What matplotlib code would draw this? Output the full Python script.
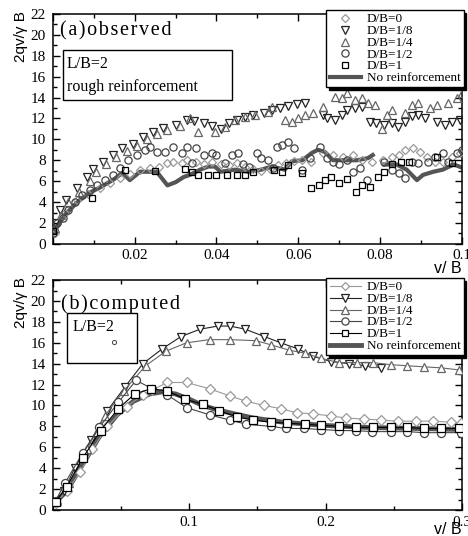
import matplotlib.pyplot as plt
from matplotlib.lines import Line2D
from matplotlib.patches import Rectangle
from matplotlib.ticker import MultipleLocator, FormatStrFormatter, FuncFormatter

plt.rcParams.update({
    "font.family": ["Liberation Serif", "DejaVu Serif"],
    "font.size": 11,
    "xtick.direction": "in", "ytick.direction": "in",
    "xtick.top": True, "ytick.right": True,
    "xtick.major.size": 5, "ytick.major.size": 5,
    "xtick.minor.size": 3, "ytick.minor.size": 3,
    "xtick.major.pad": 4, "ytick.major.pad": 5,
    "axes.linewidth": 1.1,
})

LABELS = ["D/B=0", "D/B=1/8", "D/B=1/4", "D/B=1/2", "D/B=1"]
NOREINF = "No reinforcement"
HAIR = "\u200a"

# ---- (a) observed: (v/B, 2qv/gB) pairs ----
obs_d0 = [(0.0005, 1.0), (0.003, 3.0), (0.006, 4.2), (0.0085, 4.8), (0.0115, 5.3),
          (0.014, 5.8), (0.0164, 6.3), (0.0188, 6.7), (0.0213, 7.1), (0.0237, 7.3),
          (0.026, 7.4), (0.0279, 7.7), (0.0293, 7.8), (0.0315, 7.7), (0.0328, 8.0),
          (0.035, 7.8), (0.037, 7.6), (0.039, 7.8), (0.041, 7.6), (0.043, 7.5),
          (0.045, 7.7), (0.047, 7.4), (0.049, 7.2), (0.051, 7.0), (0.053, 7.2),
          (0.055, 7.5), (0.057, 7.7), (0.059, 7.9), (0.061, 8.0), (0.063, 7.8),
          (0.066, 8.7), (0.0685, 8.5), (0.071, 8.3), (0.0733, 8.5), (0.0755, 8.0),
          (0.078, 7.8), (0.0807, 8.0), (0.0829, 8.3), (0.0845, 8.5), (0.086, 9.0),
          (0.088, 9.2), (0.0897, 8.8), (0.0914, 8.3), (0.0934, 7.8), (0.0953, 7.8),
          (0.0975, 8.3), (0.0995, 8.7)]
obs_d18 = [(0.0005, 2.0), (0.0017, 3.2), (0.0033, 4.2), (0.006, 5.3), (0.0083, 6.4),
           (0.0098, 7.2), (0.0122, 7.8), (0.0147, 8.5), (0.017, 9.2), (0.0196, 9.6),
           (0.022, 10.2), (0.0245, 10.7), (0.027, 11.1), (0.030, 11.4), (0.0328, 11.9),
           (0.0345, 11.8), (0.037, 11.6), (0.039, 11.3), (0.041, 11.0), (0.043, 11.6),
           (0.045, 11.9), (0.047, 12.1), (0.049, 12.3), (0.0515, 12.5), (0.0535, 12.8),
           (0.0555, 13.0), (0.0575, 13.2), (0.0596, 13.4), (0.0616, 13.5), (0.066, 12.3),
           (0.067, 12.0), (0.069, 11.9), (0.0707, 12.3), (0.072, 12.8), (0.0738, 13.0),
           (0.0755, 13.1), (0.0775, 11.7), (0.079, 11.6), (0.081, 11.4), (0.083, 11.6),
           (0.0843, 11.2), (0.086, 11.7), (0.0878, 12.2), (0.0893, 12.3), (0.091, 12.0),
           (0.0939, 11.7), (0.0958, 11.4), (0.0975, 11.7), (0.0995, 11.9)]
obs_d14 = [(0.0005, 1.5), (0.002, 2.8), (0.0038, 4.0), (0.0065, 5.0), (0.009, 6.0),
           (0.0105, 6.9), (0.013, 7.6), (0.0155, 8.3), (0.018, 8.9), (0.0205, 9.4),
           (0.023, 10.0), (0.0255, 10.5), (0.028, 10.9), (0.031, 11.3), (0.0335, 12.0),
           (0.0355, 10.7), (0.0396, 10.7), (0.042, 11.2), (0.0445, 11.9), (0.047, 12.1),
           (0.0495, 12.3), (0.0526, 12.6), (0.0535, 13.1), (0.0567, 11.9), (0.0584, 11.7),
           (0.060, 12.0), (0.0616, 12.3), (0.0635, 12.5), (0.066, 13.1), (0.069, 14.1),
           (0.0707, 14.0), (0.072, 14.4), (0.0738, 13.8), (0.0755, 14.0), (0.077, 13.5),
           (0.0787, 13.3), (0.0804, 11.0), (0.0816, 12.3), (0.0829, 12.8), (0.086, 12.5),
           (0.0878, 13.3), (0.0893, 13.5), (0.0922, 13.0), (0.094, 13.3), (0.0966, 13.5),
           (0.0988, 14.0), (0.1, 14.4)]
obs_d12 = [(0.0, 1.0), (0.001, 2.0), (0.0025, 2.5), (0.0037, 3.2), (0.0054, 4.0),
           (0.007, 4.7), (0.009, 5.2), (0.0107, 5.6), (0.0127, 6.1), (0.0147, 6.6),
           (0.0164, 7.3), (0.0183, 8.0), (0.0205, 8.5), (0.0225, 9.0), (0.0237, 9.3),
           (0.0254, 8.8), (0.0274, 8.8), (0.0293, 9.3), (0.0315, 8.7), (0.0328, 9.3),
           (0.034, 7.7), (0.035, 9.2), (0.037, 8.5), (0.039, 8.7), (0.040, 8.5),
           (0.042, 7.7), (0.0438, 8.5), (0.0452, 8.7), (0.0465, 7.6), (0.048, 7.4),
           (0.0499, 8.7), (0.051, 8.2), (0.0526, 8.0), (0.0538, 7.3), (0.0548, 9.3),
           (0.056, 9.5), (0.0575, 9.7), (0.059, 9.2), (0.0609, 7.1), (0.0628, 8.2),
           (0.0653, 9.3), (0.067, 8.2), (0.0685, 7.8), (0.070, 7.6), (0.0718, 8.0),
           (0.0733, 6.9), (0.075, 7.3), (0.0768, 6.1), (0.081, 7.8), (0.0829, 7.1),
           (0.0845, 6.8), (0.086, 6.3), (0.0878, 7.8), (0.0893, 7.7), (0.0917, 7.8),
           (0.0934, 8.3), (0.0953, 8.7), (0.0966, 7.8), (0.0988, 8.7), (0.1, 9.0)]
obs_d1 = [(0.0, 1.2), (0.0095, 4.4), (0.0176, 7.1), (0.025, 7.0), (0.0323, 7.2),
          (0.034, 6.9), (0.0355, 6.6), (0.038, 6.6), (0.040, 6.6), (0.0425, 6.6),
          (0.045, 6.6), (0.047, 6.6), (0.049, 6.9), (0.054, 7.1), (0.056, 6.9),
          (0.0575, 7.5), (0.061, 6.8), (0.063, 5.3), (0.065, 5.6), (0.0665, 6.1),
          (0.068, 6.4), (0.070, 5.8), (0.072, 6.2), (0.074, 5.0), (0.0755, 5.6),
          (0.0775, 5.4), (0.0795, 6.4), (0.081, 6.9), (0.083, 7.6), (0.085, 7.8),
          (0.087, 7.8), (0.094, 8.3), (0.0975, 7.7)]
obs_none = [(0.0, 1.0), (0.003, 2.8), (0.006, 4.0), (0.009, 4.9), (0.012, 5.5),
            (0.015, 6.2), (0.017, 6.8), (0.0188, 6.1), (0.0213, 6.9), (0.0254, 6.9),
            (0.028, 5.6), (0.030, 5.9), (0.032, 6.4), (0.0335, 6.6), (0.036, 7.1),
            (0.038, 7.4), (0.0396, 7.4), (0.041, 6.9), (0.0445, 7.1), (0.0477, 6.9),
            (0.051, 7.1), (0.0535, 7.4), (0.0567, 7.1), (0.0584, 7.9), (0.061, 8.0),
            (0.0633, 8.7), (0.0648, 9.0), (0.0665, 8.8), (0.0685, 8.0), (0.072, 8.0),
            (0.0743, 8.0), (0.077, 8.2), (0.0782, 8.5), (0.079, float("nan")),
            (0.081, 7.6), (0.084, 7.6), (0.0865, 7.1), (0.089, 6.1), (0.0905, 6.6),
            (0.093, 6.9), (0.0953, 7.1), (0.098, 7.6), (0.1, 7.3)]

# ---- (b) computed ----
cmp_d0 = [(0.002, 0.7), (0.01, 1.8), (0.02, 3.6), (0.029, 5.8), (0.04, 8.0),
          (0.054, 9.9), (0.066, 11.0), (0.073, 11.5), (0.084, 12.2), (0.098, 12.2),
          (0.115, 11.6), (0.130, 10.9), (0.142, 10.4), (0.155, 10.0), (0.167, 9.7),
          (0.179, 9.3), (0.191, 9.2), (0.204, 9.0), (0.215, 8.8), (0.228, 8.7),
          (0.241, 8.6), (0.253, 8.5), (0.266, 8.5), (0.279, 8.5), (0.292, 8.4),
          (0.299, 8.3)]
cmp_d18 = [(0.002, 0.8), (0.008, 1.8), (0.016, 4.0), (0.028, 6.7), (0.040, 9.5),
           (0.053, 11.8), (0.066, 14.0), (0.080, 15.4), (0.094, 16.6), (0.108, 17.3),
           (0.121, 17.6), (0.130, 17.6), (0.141, 17.3), (0.155, 16.6), (0.167, 16.0),
           (0.180, 15.4), (0.191, 14.7), (0.204, 14.2), (0.217, 14.0), (0.229, 13.8),
           (0.241, 13.6)]
cmp_d14 = [(0.003, 0.9), (0.012, 2.6), (0.025, 5.8), (0.038, 9.0), (0.052, 11.4),
           (0.068, 13.8), (0.083, 15.2), (0.098, 16.0), (0.115, 16.3), (0.130, 16.3),
           (0.149, 16.2), (0.160, 15.8), (0.173, 15.3), (0.185, 15.0), (0.197, 14.5),
           (0.210, 14.1), (0.223, 14.1), (0.235, 14.1), (0.248, 13.9), (0.260, 13.8),
           (0.272, 13.7), (0.285, 13.6), (0.298, 13.4)]
cmp_d12 = [(0.002, 0.9), (0.009, 2.6), (0.022, 5.5), (0.034, 7.9), (0.048, 10.3),
           (0.061, 12.4), (0.073, 11.6), (0.084, 11.0), (0.098, 9.8), (0.115, 9.1),
           (0.130, 8.6), (0.142, 8.2), (0.160, 8.0), (0.171, 7.8), (0.184, 7.8),
           (0.197, 7.7), (0.210, 7.6), (0.222, 7.6), (0.234, 7.5), (0.248, 7.5),
           (0.260, 7.5), (0.272, 7.4), (0.285, 7.4), (0.299, 7.4)]
cmp_d1 = [(0.002, 0.8), (0.010, 2.2), (0.022, 5.0), (0.035, 7.6), (0.048, 9.7),
          (0.060, 11.1), (0.072, 11.6), (0.084, 11.4), (0.097, 10.6), (0.110, 10.1),
          (0.122, 9.5), (0.135, 8.9), (0.147, 8.6), (0.160, 8.4), (0.172, 8.3),
          (0.185, 8.2), (0.197, 8.1), (0.210, 8.0), (0.222, 7.9), (0.235, 7.9),
          (0.248, 7.9), (0.260, 7.9), (0.272, 7.8), (0.285, 7.8), (0.298, 7.8)]
cmp_none = [(0.0, 0.5), (0.010, 1.8), (0.022, 4.4), (0.034, 7.0), (0.047, 9.1),
            (0.059, 10.4), (0.071, 11.1), (0.080, 11.3), (0.090, 11.1), (0.100, 10.6),
            (0.110, 10.0), (0.120, 9.6), (0.133, 9.2), (0.147, 8.8), (0.169, 8.4),
            (0.198, 8.1), (0.230, 7.9), (0.267, 7.8), (0.300, 7.7)]

MARKERS = ["D", "v", "^", "o", "s"]
COLORS = ["#999999", "#222222", "#666666", "#444444", "#000000"]
SIZES_A = [4.2, 5.5, 5.5, 5.2, 5.0]
SIZES_B = [5.0, 6.3, 6.3, 5.8, 5.6]
THICK = "#555555"


def xy(pairs):
    return [p[0] for p in pairs], [p[1] for p in pairs]


def spaced(s):
    return HAIR.join(s)


def style_axes(ax, xmax, xmajor, xminor, xlab_y):
    ax.set_xlim(0, xmax)
    ax.set_ylim(0, 22)
    ax.xaxis.set_major_locator(MultipleLocator(xmajor))
    ax.xaxis.set_minor_locator(MultipleLocator(xminor))
    ax.xaxis.set_major_formatter(
        FuncFormatter(lambda v, _: "" if abs(v) < 1e-12 else "%g" % v))
    ax.yaxis.set_major_locator(MultipleLocator(2))
    ax.yaxis.set_minor_locator(MultipleLocator(1))
    ax.yaxis.set_major_formatter(FormatStrFormatter("%d"))
    ax.tick_params(which="both", top=True, right=True, width=1)
    ax.text(-0.077, 1.012, "2qv/γ B", rotation=90, ha="center", va="top",
            transform=ax.transAxes, family="Liberation Sans", size=11)
    ax.text(1.0, xlab_y, "v/ B", ha="right", va="center",
            transform=ax.transAxes, family="Liberation Sans", size=11.5)


def add_legend(ax, handles, y_anchor):
    leg = ax.legend(handles=handles, loc="upper right",
                    bbox_to_anchor=(1.004, y_anchor), borderaxespad=0,
                    frameon=True, fancybox=False, framealpha=1,
                    edgecolor="k", shadow={"color": "k", "alpha": 1},
                    fontsize=9.5, handlelength=2.4, handletextpad=0.4,
                    handleheight=0.5, labelspacing=-0.02, borderpad=0.25)
    leg.get_frame().set_linewidth(1.0)
    leg.set_zorder(10)
    return leg


fig = plt.figure(figsize=(4.68, 5.36), dpi=100)
ax1 = fig.add_axes([0.113, 0.545, 0.874, 0.429])
ax2 = fig.add_axes([0.113, 0.0485, 0.874, 0.429])

# (a) observed: open markers, no connecting lines
obs = [obs_d0, obs_d18, obs_d14, obs_d12, obs_d1]
x, y = xy(obs_none)
ax1.plot(x, y, color=THICK, lw=3, zorder=2)
for data, m, c, s in zip(obs, MARKERS, COLORS, SIZES_A):
    x, y = xy(data)
    ax1.plot(x, y, ls="none", marker=m, ms=s, mfc="none", mec=c, mew=0.9, zorder=3)
style_axes(ax1, 0.1, 0.02, 0.01, -0.105)

ax1.text(0.017, 0.925, spaced("(a)observed"), transform=ax1.transAxes, size=14.5,
         ha="left", va="center")
ax1.add_patch(Rectangle((0.024, 0.626), 0.414, 0.217, transform=ax1.transAxes,
                        fill=False, lw=1, ec="k"))
ax1.text(0.034, 0.783, "L/B=2", transform=ax1.transAxes, size=11.5, va="center")
ax1.text(0.034, 0.683, "rough reinforcement", transform=ax1.transAxes, size=11.5,
         va="center")

h1 = [Line2D([], [], ls="none", marker=m, ms=s, mfc="none", mec=c, mew=0.9, label=l)
      for m, c, s, l in zip(MARKERS, COLORS, SIZES_A, LABELS)]
h1.append(Line2D([], [], color=THICK, lw=3, label=NOREINF))
add_legend(ax1, h1, 1.017)

# (b) computed: lines with white-filled markers
cmp = [cmp_d0, cmp_d18, cmp_d14, cmp_d12, cmp_d1]
x, y = xy(cmp_none)
ax2.plot(x, y, color=THICK, lw=3.5, zorder=2)
for data, m, c, s in zip(cmp, MARKERS, COLORS, SIZES_B):
    x, y = xy(data)
    ax2.plot(x, y, color=c, lw=0.8, marker=m, ms=s, mfc="white", mec=c, mew=0.9,
             zorder=3)
style_axes(ax2, 0.3, 0.1, 0.05, -0.083)

ax2.text(0.02, 0.896, spaced("(b)computed"), transform=ax2.transAxes, size=14.5,
         ha="left", va="center")
ax2.add_patch(Rectangle((0.034, 0.639), 0.171, 0.218, transform=ax2.transAxes,
                        fill=False, lw=1, ec="k"))
ax2.text(0.048, 0.796, "L/B=2", transform=ax2.transAxes, size=11.5, va="center")
ax2.plot([0.149], [0.730], transform=ax2.transAxes, marker="o", ms=3, mfc="none",
         mec="#444444", mew=0.7)

h2 = [Line2D([], [], color=c, lw=0.8, marker=m, ms=s, mfc="white", mec=c, mew=0.9,
             label=l) for m, c, s, l in zip(MARKERS, COLORS, SIZES_A, LABELS)]
h2.append(Line2D([], [], color=THICK, lw=3.5, label=NOREINF))
add_legend(ax2, h2, 1.009)

fig.savefig("out.png", dpi=100)
